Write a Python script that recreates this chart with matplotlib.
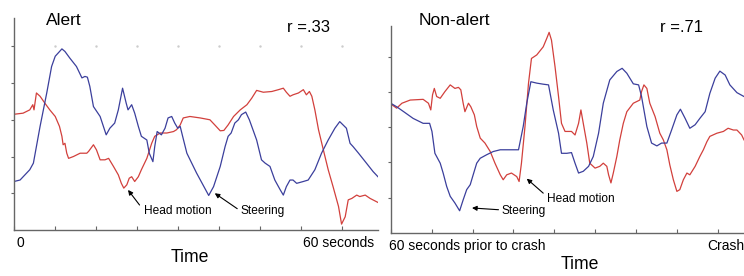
import numpy as np
import matplotlib
matplotlib.use('Agg')
import matplotlib.pyplot as plt

plt.rcParams['font.family'] = ['Liberation Sans', 'DejaVu Sans']

# ---- Alert drive (time in s, signal in arbitrary units) ----
alert_steer_t = [0.0, 1.0, 2.6, 3.2, 4.3, 5.4, 6.2, 6.8, 7.3, 7.9, 8.4, 9.2, 10.3, 11.2,
                 11.7, 12.1, 12.5, 13.1, 14.2, 15.2, 15.8, 16.6, 17.2, 17.9, 18.5, 18.8,
                 19.4, 19.9, 20.5, 21.0, 21.9, 22.3, 22.9, 23.2, 23.6, 24.3, 24.9, 25.4,
                 26.0, 26.5, 27.0, 27.4, 27.8, 28.5, 30.1, 32.1, 32.9, 34.0, 34.8, 35.3,
                 35.8, 36.4, 37.0, 37.5, 38.2, 38.8, 39.5, 40.0, 40.8, 41.4, 42.2, 43.0,
                 43.9, 44.4, 44.9, 45.5, 46.0, 46.6, 47.7, 48.5, 49.6, 50.7, 51.8, 52.9,
                 53.7, 54.8, 55.4, 55.9, 56.8, 58.1, 59.2, 60.0]
alert_steer = [1.32, 1.36, 1.64, 1.82, 2.82, 3.73, 4.45, 4.73, 4.82, 4.93, 4.86, 4.68, 4.45,
               4.14, 4.18, 4.16, 3.91, 3.36, 3.09, 2.59, 2.77, 2.91, 3.27, 3.86, 3.45, 3.27,
               3.41, 3.18, 2.82, 2.55, 2.45, 2.09, 1.86, 2.27, 2.68, 2.59, 2.77, 3.05, 3.09,
               2.91, 2.77, 2.82, 2.55, 2.09, 1.55, 0.94, 1.18, 1.73, 2.27, 2.55, 2.64, 2.91,
               3.00, 3.14, 3.21, 3.00, 2.68, 2.45, 1.91, 1.82, 1.73, 1.36, 1.09, 0.95, 1.18,
               1.36, 1.36, 1.27, 1.32, 1.36, 1.64, 2.09, 2.45, 2.77, 2.95, 2.77, 2.36, 2.27,
               2.09, 1.82, 1.59, 1.45]

alert_head_t = [0.0, 1.5, 2.6, 3.1, 3.3, 3.7, 4.3, 5.1, 5.9, 6.8, 7.5, 7.9, 8.1, 8.4, 8.7,
                9.0, 9.8, 10.9, 12.0, 12.3, 13.1, 13.6, 14.2, 15.0, 15.6, 16.4, 17.2, 17.7,
                18.1, 18.6, 19.0, 19.4, 19.9, 20.5, 21.0, 21.9, 22.7, 23.2, 24.1, 25.2, 26.3,
                26.8, 27.4, 27.9, 29.0, 30.7, 32.3, 33.1, 34.0, 34.6, 35.3, 36.2, 37.3, 38.4,
                39.2, 40.0, 41.1, 42.5, 43.6, 44.4, 44.9, 45.5, 46.0, 46.9, 47.7, 48.2, 48.7,
                49.1, 49.6, 50.2, 51.0, 51.8, 52.6, 53.5, 54.0, 54.6, 55.1, 55.7, 56.5, 57.0,
                57.9, 58.7, 60.0]
alert_head = [3.15, 3.18, 3.27, 3.41, 3.27, 3.73, 3.64, 3.45, 3.27, 3.09, 2.82, 2.55, 2.32,
              2.36, 2.09, 1.95, 2.00, 2.09, 2.09, 2.14, 2.32, 2.18, 1.91, 1.91, 1.95, 1.73,
              1.50, 1.27, 1.14, 1.23, 1.41, 1.45, 1.32, 1.45, 1.64, 1.95, 2.36, 2.55, 2.64,
              2.64, 2.68, 2.73, 2.86, 3.05, 3.09, 3.05, 3.00, 2.86, 2.70, 2.71, 2.86, 3.09,
              3.27, 3.41, 3.59, 3.80, 3.75, 3.77, 3.82, 3.86, 3.75, 3.64, 3.68, 3.73, 3.82,
              3.68, 3.77, 3.64, 3.27, 2.73, 2.18, 1.64, 1.18, 0.64, 0.16, 0.36, 0.82, 0.86,
              0.95, 0.91, 0.95, 0.86, 0.75]

# ---- Non-alert drive (last 60 s before the crash) ----
drowsy_steer_t = [0.0, 1.0, 2.2, 3.8, 5.5, 6.6, 7.0, 7.5, 8.4, 8.9, 9.5, 10.1, 10.9, 11.7,
                  12.3, 12.9, 13.5, 14.0, 14.6, 15.2, 16.3, 17.4, 18.6, 20.3, 21.7, 22.5,
                  23.1, 23.8, 24.8, 25.9, 26.8, 27.6, 28.5, 29.0, 29.9, 30.7, 31.3, 31.9,
                  32.7, 33.6, 34.4, 35.3, 36.1, 37.2, 38.4, 39.3, 40.1, 41.2, 42.1, 42.6,
                  43.5, 44.3, 45.2, 46.0, 46.9, 47.7, 48.6, 49.2, 50.0, 50.8, 51.7, 52.5,
                  53.4, 54.2, 55.1, 55.9, 56.8, 57.6, 58.8, 60.0]
drowsy_steer = [3.68, 3.58, 3.44, 3.25, 3.11, 3.11, 2.88, 2.26, 1.98, 1.70, 1.32, 1.04, 0.85,
                0.63, 0.94, 1.23, 1.37, 1.65, 1.98, 2.12, 2.22, 2.31, 2.36, 2.36, 2.36, 3.02,
                3.68, 4.29, 4.25, 4.22, 4.20, 3.49, 2.83, 2.26, 2.26, 2.28, 1.98, 1.70, 1.75,
                1.89, 2.17, 2.83, 3.68, 4.34, 4.58, 4.67, 4.53, 4.23, 4.20, 3.87, 3.02, 2.55,
                2.47, 2.55, 2.55, 2.92, 3.35, 3.51, 3.25, 2.97, 3.07, 3.25, 3.44, 3.96, 4.39,
                4.59, 4.48, 4.20, 3.98, 3.87]

drowsy_head_t = [0.0, 1.0, 1.9, 3.3, 5.5, 6.4, 6.8, 7.1, 7.4, 7.8, 8.4, 9.2, 10.1, 10.9,
                 11.5, 11.9, 12.3, 12.6, 13.2, 13.6, 14.2, 14.6, 15.2, 16.0, 16.9, 17.7,
                 18.6, 19.1, 19.7, 20.5, 21.4, 21.8, 22.2, 22.8, 23.4, 23.9, 24.8, 25.9,
                 26.5, 26.9, 27.3, 27.9, 28.5, 29.0, 29.6, 30.7, 31.3, 31.9, 32.3, 32.7,
                 33.3, 33.8, 34.7, 35.5, 36.1, 36.7, 37.0, 37.4, 37.8, 38.4, 38.9, 39.5,
                 40.1, 41.2, 42.3, 42.6, 43.0, 43.5, 44.0, 44.9, 45.7, 46.3, 46.9, 47.4,
                 48.0, 48.6, 49.1, 49.7, 50.3, 50.8, 51.7, 52.5, 53.1, 53.7, 54.2, 55.4,
                 56.5, 57.3, 58.2, 58.8, 59.6, 60.0]
drowsy_head = [3.66, 3.54, 3.68, 3.77, 3.79, 3.68, 3.49, 3.92, 4.10, 3.87, 3.82, 4.01, 4.20,
               4.10, 4.13, 4.06, 3.68, 3.44, 3.68, 3.58, 3.35, 3.02, 2.69, 2.55, 2.31, 1.98,
               1.65, 1.51, 1.65, 1.70, 1.60, 1.46, 1.98, 3.02, 4.25, 4.95, 5.05, 5.28, 5.52,
               5.69, 5.47, 4.72, 3.87, 3.11, 2.88, 2.88, 2.78, 3.11, 3.49, 3.11, 2.55, 1.98,
               1.84, 1.89, 1.98, 1.89, 1.65, 1.42, 1.70, 2.17, 2.64, 3.11, 3.44, 3.68, 3.77,
               4.01, 4.20, 4.10, 3.68, 3.30, 2.83, 2.64, 2.36, 1.93, 1.51, 1.18, 1.23, 1.51,
               1.70, 1.65, 1.89, 2.17, 2.36, 2.59, 2.74, 2.83, 2.88, 2.97, 2.92, 2.92, 2.78,
               2.64]

BLUE = '#3b3f9c'
RED = '#d2403c'
AXC = '#666666'


def style_axes(ax, xstep, ytop):
    for s in ('top', 'right'):
        ax.spines[s].set_visible(False)
    for s in ('left', 'bottom'):
        ax.spines[s].set_color(AXC)
        ax.spines[s].set_linewidth(1.0)
    ax.set_xlim(0, 60)
    ax.set_ylim(0, ytop)
    ax.set_xticks(np.arange(0, 60, xstep))
    ax.set_yticks([1, 2, 3, 4, 5])
    ax.tick_params(axis='x', direction='in', length=3, color=AXC, labelbottom=False)
    ax.tick_params(axis='y', direction='out', length=2, color=AXC, labelleft=False)
    ax.set_facecolor('none')


def arrow(ax, head, tail):
    ax.annotate('', xy=head, xytext=tail,
                arrowprops=dict(arrowstyle='-|>', color='black', lw=0.8,
                                mutation_scale=7, shrinkA=0, shrinkB=0))


fig = plt.figure(figsize=(7.44, 2.76), dpi=100)

# left panel
ax1 = fig.add_axes([0.0188, 0.1667, 0.4892, 0.768])
style_axes(ax1, 60 / 8.88, 5.77)
ax1.plot(alert_head_t, alert_head, color=RED, lw=0.9)
ax1.plot(alert_steer_t, alert_steer, color=BLUE, lw=0.9)
grid_t = np.arange(60 / 8.88, 60, 60 / 8.88)
ax1.plot(grid_t, np.full(len(grid_t), 5), ls='none', marker='.', ms=1.5, color='#cccccc')
ax1.text(21.4, 0.51, 'Head motion', fontsize=8.6, va='center', ha='left')
arrow(ax1, (18.8, 1.09), (20.7, 0.68))
ax1.text(37.4, 0.51, 'Steering', fontsize=8.6, va='center', ha='left')
arrow(ax1, (33.1, 1.0), (36.8, 0.58))

# right panel
ax2 = fig.add_axes([0.5252, 0.1558, 0.4748, 0.75])
style_axes(ax2, 60 / 8.64, 5.87)
ax2.plot(drowsy_head_t, drowsy_head, color=RED, lw=0.9)
ax2.plot(drowsy_steer_t, drowsy_steer, color=BLUE, lw=0.9)
ax2.text(18.8, 0.63, 'Steering', fontsize=8.6, va='center', ha='left')
arrow(ax2, (13.8, 0.71), (18.3, 0.66))
ax2.text(26.6, 0.97, 'Head motion', fontsize=8.6, va='center', ha='left')
arrow(ax2, (23.1, 1.54), (25.9, 1.13))

# outer labels
fig.text(0.0618, 0.9275, 'Alert', fontsize=12.5, va='center', ha='left')
fig.text(0.3858, 0.8986, 'r =.33', fontsize=12, va='center', ha='left')
fig.text(0.563, 0.9275, 'Non-alert', fontsize=12.5, va='center', ha='left')
fig.text(0.887, 0.8986, 'r =.71', fontsize=12, va='center', ha='left')

fig.text(0.022, 0.1196, '0', fontsize=10, va='center', ha='left')
fig.text(0.5027, 0.1196, '60 seconds', fontsize=10, va='center', ha='right')
fig.text(0.255, 0.0688, 'Time', fontsize=12.7, va='center', ha='center')

fig.text(0.523, 0.1087, '60 seconds prior to crash', fontsize=10, va='center', ha='left')
fig.text(1.0, 0.1087, 'Crash', fontsize=10, va='center', ha='right')
fig.text(0.7796, 0.0399, 'Time', fontsize=12.7, va='center', ha='center')

fig.savefig('out.png', dpi=100)
plt.close(fig)
